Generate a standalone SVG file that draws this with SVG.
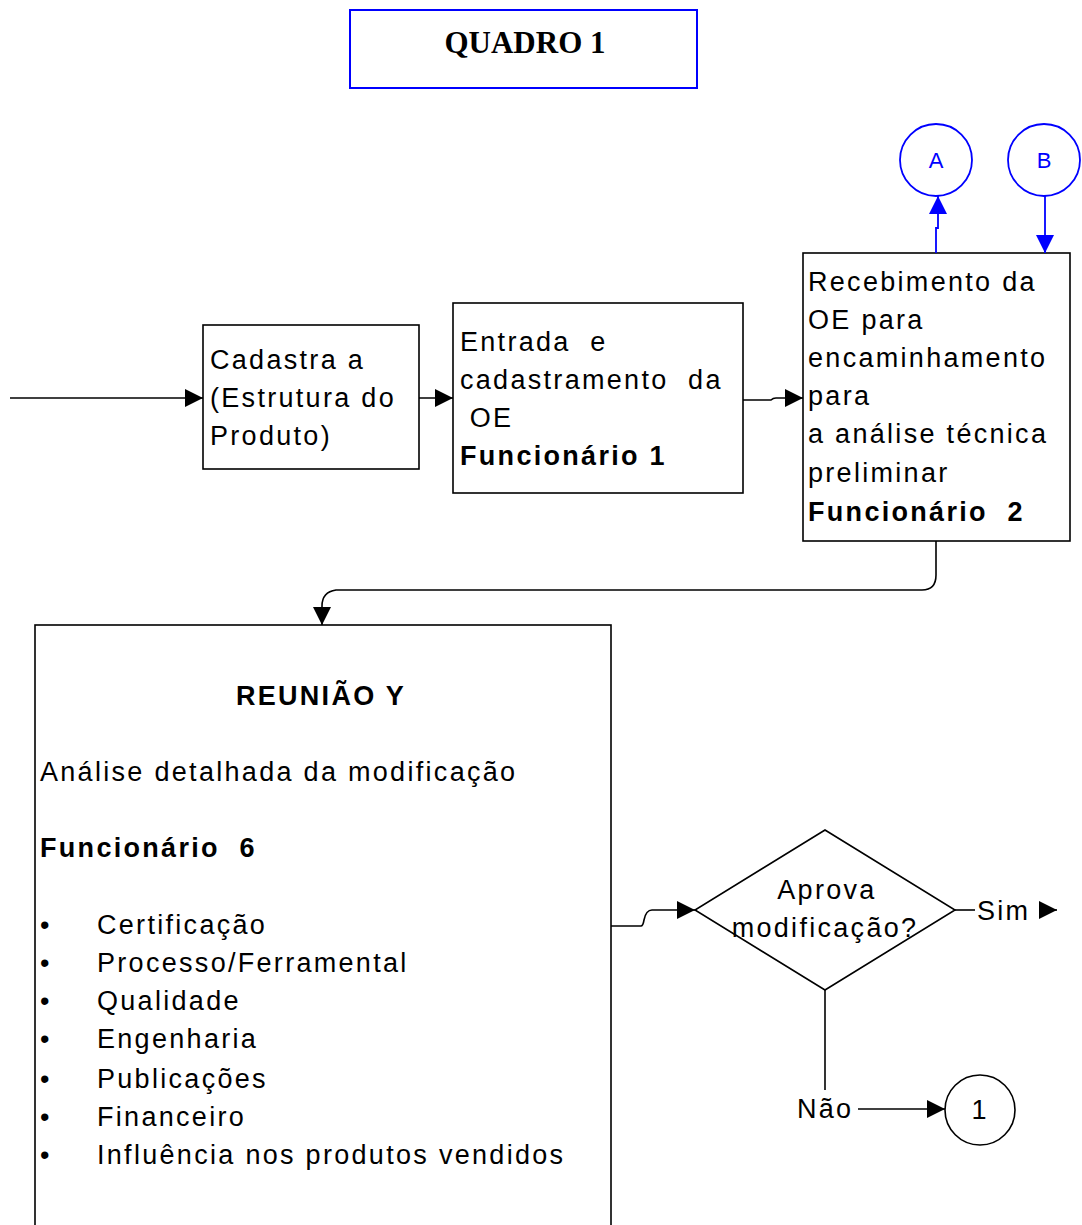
<svg xmlns="http://www.w3.org/2000/svg" width="1082" height="1225" viewBox="0 0 1082 1225">
<style>
.box{fill:#fff;stroke:#000;stroke-width:1.6}
.t{font-family:"Liberation Sans",Arial,sans-serif;font-size:27px;letter-spacing:2.3px;fill:#000;white-space:pre}
.b{font-weight:bold}
.c{fill:none;stroke:#000;stroke-width:1.6}
.bl{fill:none;stroke:#0000ff;stroke-width:1.8}
.bt{font-family:"Liberation Sans",Arial,sans-serif;font-size:22px;fill:#0000ff}
</style>
<defs>
<marker id="ah" viewBox="0 0 10 10" refX="10" refY="5" markerWidth="18" markerHeight="18" markerUnits="userSpaceOnUse" orient="auto"><path d="M0,0 L10,5 L0,10 z" fill="#000"/></marker>
<marker id="ahb" viewBox="0 0 10 10" refX="10" refY="5" markerWidth="18" markerHeight="18" markerUnits="userSpaceOnUse" orient="auto"><path d="M0,0 L10,5 L0,10 z" fill="#0000ff"/></marker>
</defs>
<rect width="1082" height="1225" fill="#fff"/>
<g id="title">
<rect x="350" y="10" width="347" height="78" fill="#fff" stroke="#0000ff" stroke-width="2"/>
<text x="525" y="53" text-anchor="middle" font-family="Liberation Serif,serif" font-weight="bold" font-size="31">QUADRO 1</text>
</g>
<g id="nodeA">
<circle cx="936" cy="160" r="36" class="bl" fill="#fff"/>
<text x="936" y="168" text-anchor="middle" class="bt">A</text>
</g>
<g id="nodeB">
<circle cx="1044" cy="160" r="36" class="bl" fill="#fff"/>
<text x="1044" y="168" text-anchor="middle" class="bt">B</text>
</g>
<g id="box1">
<rect x="203" y="325" width="216" height="144" class="box"/>
<text class="t" x="210" y="369">Cadastra a</text>
<text class="t" x="210" y="407">(Estrutura do</text>
<text class="t" x="210" y="445">Produto)</text>
</g>
<g id="box2">
<rect x="453" y="303" width="290" height="190" class="box"/>
<text class="t" x="460" y="351">Entrada  e</text>
<text class="t" x="460" y="389">cadastramento  da</text>
<text class="t" x="460" y="427"> OE</text>
<text class="t b" x="460" y="465">Funcionário 1</text>
</g>
<g id="box3">
<rect x="803" y="253" width="267" height="288" class="box"/>
<text class="t" x="808" y="291">Recebimento da</text>
<text class="t" x="808" y="329">OE para</text>
<text class="t" x="808" y="367">encaminhamento</text>
<text class="t" x="808" y="405">para</text>
<text class="t" x="808" y="443">a análise técnica</text>
<text class="t" x="808" y="482">preliminar</text>
<text class="t b" x="808" y="521">Funcionário  2</text>
</g>
<g id="reuniao">
<rect x="35" y="625" width="576" height="610" class="box"/>
<text class="t b" x="321" y="705" text-anchor="middle">REUNIÃO Y</text>
<text class="t" x="40" y="781">Análise detalhada da modificação</text>
<text class="t b" x="40" y="857">Funcionário  6</text>
<text class="t" x="40" y="934">•</text><text class="t" x="97" y="934">Certificação</text>
<text class="t" x="40" y="972">•</text><text class="t" x="97" y="972">Processo/Ferramental</text>
<text class="t" x="40" y="1010">•</text><text class="t" x="97" y="1010">Qualidade</text>
<text class="t" x="40" y="1048">•</text><text class="t" x="97" y="1048">Engenharia</text>
<text class="t" x="40" y="1088">•</text><text class="t" x="97" y="1088">Publicações</text>
<text class="t" x="40" y="1126">•</text><text class="t" x="97" y="1126">Financeiro</text>
<text class="t" x="40" y="1164">•</text><text class="t" x="97" y="1164">Influência nos produtos vendidos</text>
</g>
<g id="decision">
<polygon points="825,830 955,910 825,990 695,910" class="box"/>
<text class="t" x="827" y="899" text-anchor="middle">Aprova</text>
<text class="t" x="825" y="937" text-anchor="middle">modificação?</text>
</g>
<g id="node1">
<circle cx="980" cy="1110" r="35" class="box"/>
<text class="t" x="979" y="1119" text-anchor="middle" style="letter-spacing:0">1</text>
</g>
<g id="connectors">
<path class="c" d="M10,398 H203" marker-end="url(#ah)"/>
<path class="c" d="M419,398 H453" marker-end="url(#ah)"/>
<path class="c" d="M743,400 H771 Q773,398 776,398 H803" marker-end="url(#ah)"/>
<path class="c" d="M936,541 V575 Q936,590 922,590 H336 Q322,592 322,606 V625" marker-end="url(#ah)"/>
<path class="c" d="M611,926 H641 Q643,926 644,920 Q646,910 652,910 H695" marker-end="url(#ah)"/>
<path class="c" d="M955,910 H975"/>
<text class="t" x="977" y="920">Sim</text>
<path class="c" d="M1039,910 H1057" marker-end="url(#ah)"/>
<path class="c" d="M825,990 V1090"/>
<text class="t" x="797" y="1118">Não</text>
<path class="c" d="M858,1109 H945" marker-end="url(#ah)"/>
<path class="bl" d="M936,253 V228 H938 V196" marker-end="url(#ahb)"/>
<path class="bl" d="M1045,196 V253" marker-end="url(#ahb)"/>
</g>
</svg>
